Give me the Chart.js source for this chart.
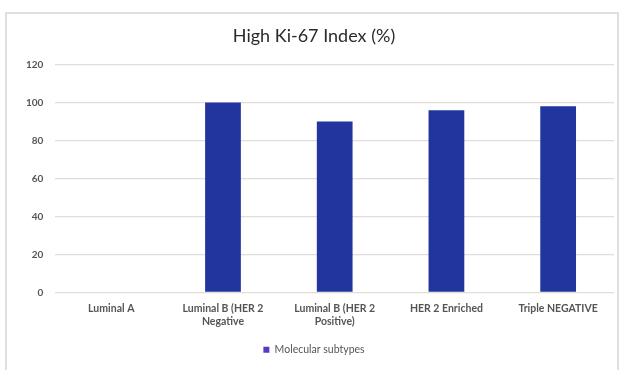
<!DOCTYPE html>
<html>
<head>
<meta charset="utf-8">
<script src="https://cdn.jsdelivr.net/npm/chart.js@4.4.1/dist/chart.umd.min.js"></script>
<style>
  html, body { margin: 0; padding: 0; background: #ffffff; }
  #wrap { position: relative; width: 624px; height: 370px; }
  #frame { position: absolute; left: 5px; top: 12px; width: 614px; height: 362px;
           border: 2px solid #e2dedc; box-sizing: border-box; }
  canvas { position: absolute; left: 0; top: 0; }
</style>
</head>
<body>
<div id="wrap">
  <div id="frame"></div>
  <canvas id="c" width="624" height="370"></canvas>
</div>
<script>
const categories = [
  "Luminal A",
  ["Luminal B (HER 2", "Negative"],
  ["Luminal B (HER 2", "Positive)"],
  "HER 2 Enriched",
  "Triple NEGATIVE"
];
const highKi67 = [0, 100, 90, 96, 98];
const seriesName = "Molecular subtypes";
const titleText = "High Ki-67 Index (%)";

const barColor = "#22359f";
const legendColor = "#5a3bbf";

new Chart(document.getElementById("c"), {
  type: "bar",
  data: {
    labels: categories,
    datasets: [{
      label: seriesName,
      data: highKi67,
      backgroundColor: barColor,
      categoryPercentage: 0.4,
      barPercentage: 0.8
    }]
  },
  options: {
    responsive: false,
    animation: false,
    layout: { padding: { left: 14, right: 10, top: 15, bottom: 5 } },
    plugins: {
      title: {
        display: true,
        text: titleText,
        color: "#2b2b2b",
        font: { family: "Lato", size: 18, weight: "normal" },
        padding: { top: 10, bottom: 18 }
      },
      legend: {
        position: "bottom",
        labels: {
          color: "#555555",
          font: { family: "Lato", size: 10.5 },
          boxWidth: 6,
          boxHeight: 6,
          padding: 10,
          generateLabels: (chart) => chart.data.datasets.map((ds, i) => ({
            text: ds.label,
            fillStyle: legendColor,
            strokeStyle: legendColor,
            lineWidth: 0,
            datasetIndex: i,
            fontColor: "#555555"
          }))
        }
      },
      tooltip: { enabled: false }
    },
    scales: {
      x: {
        grid: { display: false },
        border: { display: false },
        afterFit: (scale) => { scale.height += 5; },
        ticks: {
          color: "#555555",
          font: { family: "Lato", size: 10.5, weight: "bold" },
          maxRotation: 0,
          padding: 2
        }
      },
      y: {
        min: 0,
        max: 120,
        ticks: {
          stepSize: 20,
          color: "#555555",
          font: { family: "Lato", size: 10, weight: "bold" },
          padding: 12
        },
        grid: { color: "#e3dcd8", lineWidth: 1.2, drawTicks: false },
        border: { display: false }
      }
    }
  }
});
</script>
</body>
</html>
